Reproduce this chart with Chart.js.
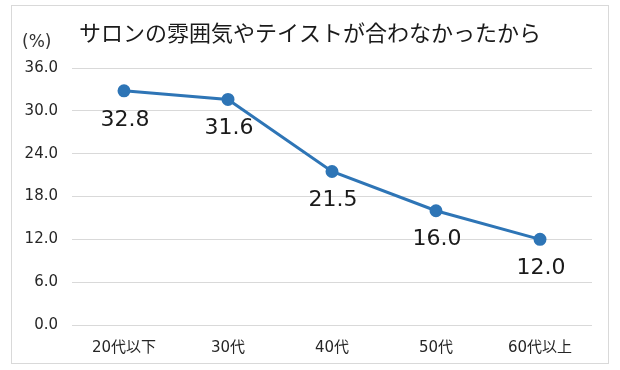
<!DOCTYPE html>
<html lang="ja">
<head>
<meta charset="utf-8">
<script src="https://cdn.jsdelivr.net/npm/chart.js@4.4.1/dist/chart.umd.min.js"></script>
<style>
  html, body { margin: 0; padding: 0; background: #fff; }
  #wrap { position: relative; width: 620px; height: 370px; }
  #frame { position: absolute; left: 11px; top: 5px; width: 598px; height: 359px; border: 1px solid #d9d9d9; box-sizing: border-box; }
  canvas { position: absolute; left: 0; top: 0; }
</style>
</head>
<body>
<div id="wrap">
  <div id="frame"></div>
  <canvas id="chart" width="620" height="370"></canvas>
</div>
<script>
  // データ
  const categories = ['20代以下', '30代', '40代', '50代', '60代以上'];
  const values = [32.8, 31.6, 21.5, 16.0, 12.0];
  const yTicks = [0, 6, 12, 18, 24, 30, 36];
  const chartTitle = 'サロンの雰囲気やテイストが合わなかったから';
  const unitLabel = '(%)';

  const FONT = '"DejaVu Sans", "Noto Sans CJK JP", sans-serif';
  const TITLE_FONT = '"Noto Sans CJK JP", sans-serif';
  const LINE_COLOR = '#2e75b6';

  // タイトルと単位
  const titlePlugin = {
    id: 'titleText',
    afterDraw(chart) {
      const c = chart.ctx;
      c.save();
      c.fillStyle = '#1a1a1a';
      c.textBaseline = 'middle';
      c.textAlign = 'left';
      c.font = '22px ' + TITLE_FONT;
      c.fillText(chartTitle, 79, 33);
      c.font = '17px ' + FONT;
      c.fillStyle = '#333333';
      c.fillText(unitLabel, 22, 43);
      c.restore();
    }
  };

  // データラベル（点の下）
  const labelPlugin = {
    id: 'pointLabels',
    afterDatasetsDraw(chart) {
      const c = chart.ctx;
      const meta = chart.getDatasetMeta(0);
      c.save();
      c.fillStyle = '#1a1a1a';
      c.font = '22px ' + FONT;
      c.textAlign = 'center';
      c.textBaseline = 'middle';
      meta.data.forEach((pt, i) => {
        c.fillText(values[i].toFixed(1), pt.x + 1, pt.y + 29);
      });
      c.restore();
    }
  };

  new Chart(document.getElementById('chart'), {
    type: 'line',
    data: {
      labels: categories,
      datasets: [{
        data: values,
        borderColor: LINE_COLOR,
        backgroundColor: LINE_COLOR,
        borderWidth: 3,
        pointRadius: 5,
        pointBackgroundColor: LINE_COLOR,
        pointBorderColor: LINE_COLOR,
        tension: 0,
      }],
    },
    options: {
      responsive: false,
      animation: false,
      layout: { padding: { left: 0, right: 28, top: 68, bottom: 5 } },
      plugins: {
        legend: { display: false },
        tooltip: { enabled: false },
      },
      scales: {
        x: {
          offset: true,
          grid: { display: false },
          border: { display: false },
          ticks: { color: '#262626', font: { family: FONT, size: 15 }, padding: 6 },
          afterFit(scale) { scale.height = 40; },
        },
        y: {
          min: 0,
          max: 36,
          afterBuildTicks(scale) { scale.ticks = yTicks.map((v) => ({ value: v })); },
          grid: { color: '#d9d9d9', lineWidth: 1, drawTicks: false },
          border: { display: false },
          ticks: {
            color: '#262626',
            font: { family: FONT, size: 15 },
            padding: 14,
            callback: (v) => Number(v).toFixed(1),
          },
          afterFit(scale) { scale.width = 72; },
        },
      },
    },
    plugins: [titlePlugin, labelPlugin],
  });
</script>
</body>
</html>
